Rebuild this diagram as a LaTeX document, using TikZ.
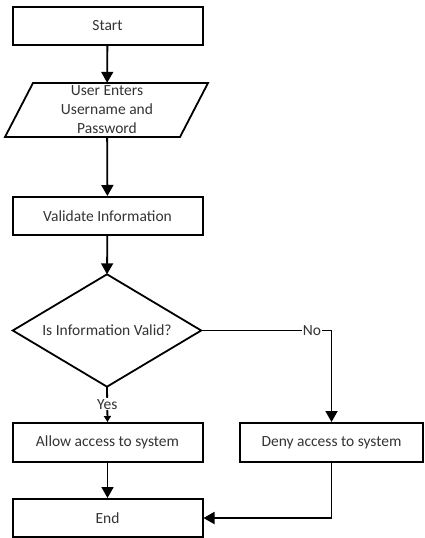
\documentclass[tikz,border=0pt]{standalone}
\usepackage{fontspec}
\setmainfont{Carlito}
\usetikzlibrary{arrows.meta}
\begin{document}
\begin{tikzpicture}[x=1pt,y=-1pt,
  every node/.style={font=\fontsize{15.5}{19}\selectfont, text=black!80},
  procbox/.style={draw=black, line width=2pt, minimum width=190pt, minimum height=38pt, inner sep=0pt},
  flow/.style={line width=1.8pt, -{Triangle[width=12pt,length=11pt]}},
  smallflow/.style={line width=1.8pt, -{Triangle[width=7pt,length=6pt]}},
  lbl/.style={fill=white, inner sep=1pt}
]
\useasboundingbox (0,0) rectangle (424,538);

% process boxes
\node[procbox] (start) at (107.5,26) {Start};
\node[procbox] (valid) at (107.5,216) {Validate Information};
\node[procbox, minimum height=39pt] (allow) at (107.5,442.5) {Allow access to system};
\node[procbox, minimum width=183pt, minimum height=39pt] (deny) at (331.5,442.5) {Deny access to system};
\node[procbox] (end) at (107.5,518) {End};

% decision diamond
\node[minimum width=188pt, minimum height=112pt, inner sep=0pt] (dec) at (107,330.5) {Is Information Valid?};
\draw[line width=1.8pt, line join=miter] (dec.north) -- (dec.east) -- (dec.south) -- (dec.west) -- cycle;

% input parallelogram
\draw[line width=1.8pt] (33,83) -- (208,83) -- (180,137) -- (5,137) -- cycle;
\node[minimum width=150pt, minimum height=54pt, inner sep=0pt, align=center] (inp) at (107,110)
  {User Enters\\Username and\\Password};

% connectors
\draw[flow] (start) -- (inp);
\draw[flow] (inp) -- (valid);
\draw[flow] (valid) -- (dec.north);
\draw[smallflow] (dec.south) -- node[lbl] {Yes} (allow.north);
\draw[flow] (dec.east) -- node[lbl, pos=0.85] {No} (deny.north |- dec.east) -- (deny.north);
\draw[flow] (allow) -- (end);
\draw[flow] (deny.south) |- (end.east);
\end{tikzpicture}
\end{document}
